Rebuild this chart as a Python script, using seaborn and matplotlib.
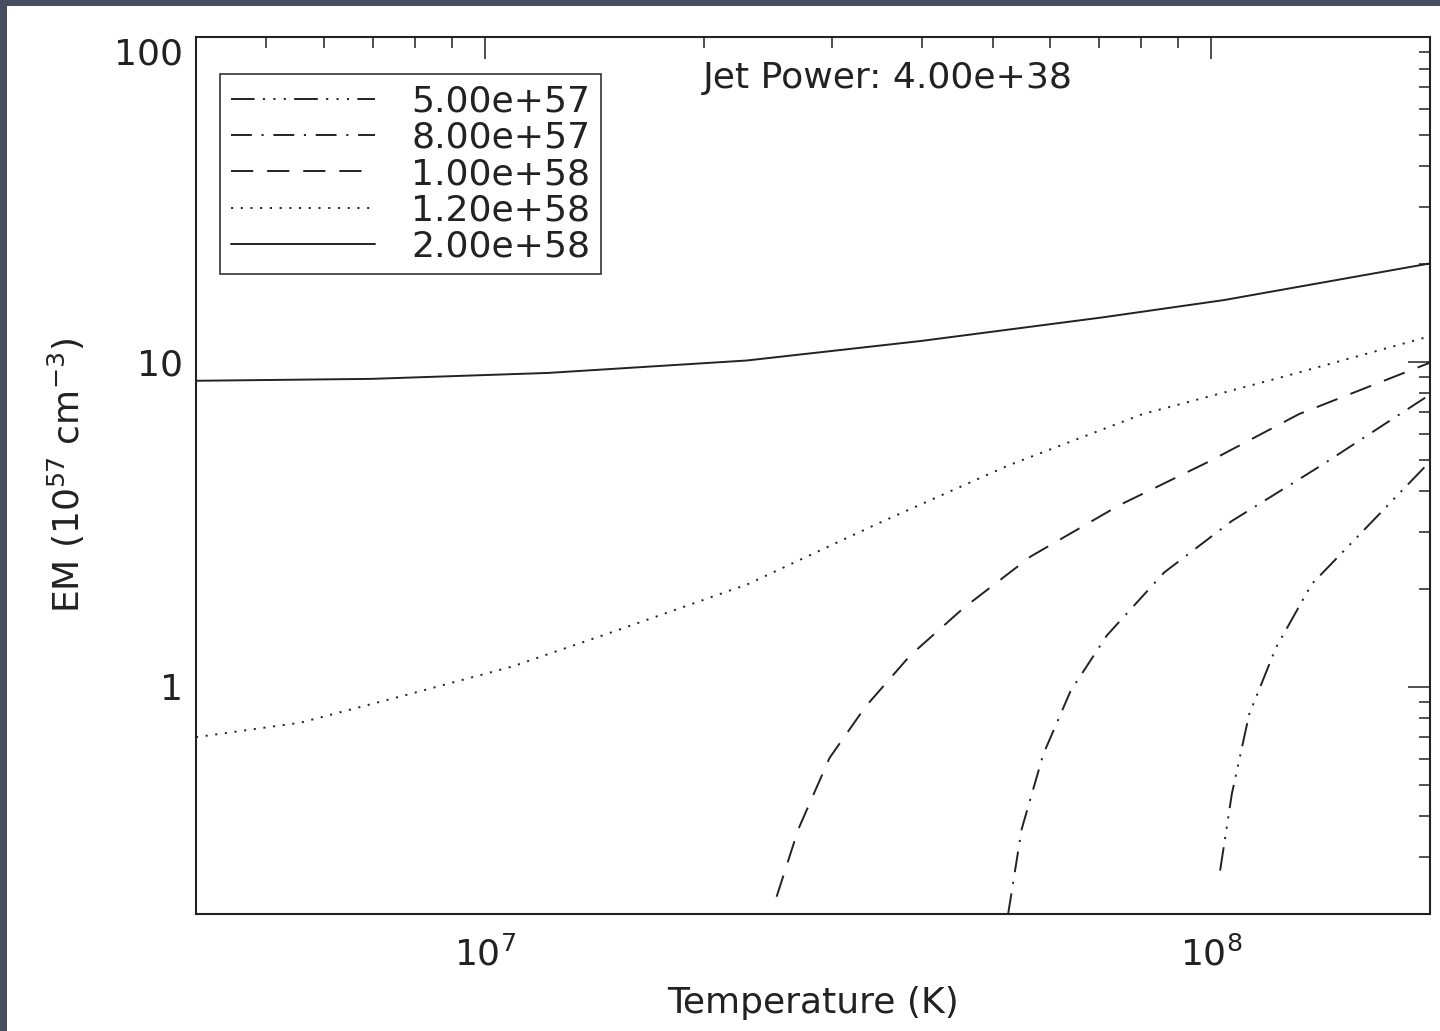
import numpy as np
import matplotlib
matplotlib.use('Agg')
import matplotlib.pyplot as plt
from matplotlib.patches import Rectangle
from matplotlib.ticker import LogLocator, NullFormatter, LogFormatterSciNotation
import seaborn as sns

# values: temperature (K) and EM (1e57 cm^-3)
temp_5e57 = [1.028e8, 1.067e8, 1.127e8, 1.227e8, 1.374e8, 1.629e8, 2.0e8]
em_5e57 = [0.272, 0.469, 0.822, 1.32, 2.07, 3.07, 4.94]

temp_8e57 = [5.25e7, 5.48e7, 5.87e7, 6.40e7, 7.18e7, 8.61e7, 1.067e8, 1.416e8, 2.0e8]
em_8e57 = [0.20, 0.365, 0.621, 0.972, 1.44, 2.25, 3.24, 4.80, 7.94]

temp_1e58 = [2.52e7, 2.70e7, 2.98e7, 3.34e7, 3.85e7, 4.56e7, 5.64e7, 7.48e7, 9.93e7, 1.32e8, 2.0e8]
em_1e58 = [0.226, 0.365, 0.604, 0.869, 1.25, 1.75, 2.52, 3.63, 4.94, 6.91, 9.95]

temp_12e58 = [4.0e6, 5.57e6, 7.80e6, 1.09e7, 1.53e7, 2.30e7, 3.44e7, 5.25e7, 8.04e7, 1.23e8, 2.0e8]
em_12e58 = [0.70, 0.776, 0.945, 1.155, 1.50, 2.07, 3.15, 4.80, 6.91, 8.89, 12.0]

temp_2e58 = [4.0e6, 6.98e6, 1.22e7, 2.29e7, 3.98e7, 7.06e7, 1.04e8, 2.0e8]
em_2e58 = [8.75, 8.87, 9.25, 10.1, 11.6, 13.7, 15.5, 20.1]

labels = ['5.00e+57', '8.00e+57', '1.00e+58', '1.20e+58', '2.00e+58']
jet_power = 'Jet Power: 4.00e+38'

sns.set_theme(style='white')
plt.rcParams['font.family'] = ['DejaVu Sans']
plt.rcParams['mathtext.fontset'] = 'dejavusans'
plt.rcParams['lines.scale_dashes'] = False

ink = '#222222'
fs = 26

# IDL style line patterns (points)
styles = [
    (0, (17, 6, 1.5, 6, 1.5, 6, 1.5, 6)),
    (0, (15, 7, 1.5, 7)),
    (0, (16, 10)),
    (0, (1.5, 5.5)),
    '-',
]

fig = plt.figure(figsize=(14.4, 10.31), dpi=100)
fig.patch.set_facecolor('#474e60')
fig.add_artist(Rectangle((7 / 1440, 0), 1, 1 - 6 / 1031, transform=fig.transFigure,
                         facecolor='white', edgecolor='none', zorder=-10))
ax = fig.add_axes([0.1361, 0.1135, 0.8570, 0.8506])
ax.set_facecolor('white')

series = [(temp_5e57, em_5e57), (temp_8e57, em_8e57), (temp_1e58, em_1e58),
          (temp_12e58, em_12e58), (temp_2e58, em_2e58)]
for (t, e), lab, ls in zip(series, labels, styles):
    sns.lineplot(x=t, y=e, ax=ax, color=ink, linewidth=1.4, linestyle=ls,
                 label=lab, sort=False)

ax.set_xscale('log')
ax.set_yscale('log')
ax.set_xlim(4e6, 2e8)
ax.set_ylim(0.2, 100)

ax.xaxis.set_major_locator(LogLocator(base=10))
ax.xaxis.set_major_formatter(LogFormatterSciNotation())
ax.xaxis.set_minor_locator(LogLocator(base=10, subs=np.arange(2, 10)))
ax.xaxis.set_minor_formatter(NullFormatter())
ax.set_yticks([1, 10, 100], labels=['1', '10', '100'])
ax.yaxis.set_minor_locator(LogLocator(base=10, subs=np.arange(2, 10)))
ax.yaxis.set_minor_formatter(NullFormatter())

ax.tick_params(which='both', direction='in', top=True, right=True, color=ink,
               labelcolor=ink, labelsize=fs)
ax.tick_params(which='major', length=16, width=1.1)
ax.tick_params(which='minor', length=8, width=1.1)
ax.tick_params(axis='x', which='major', pad=16)
ax.tick_params(axis='y', which='major', pad=9)
ax.get_yticklabels()[2].set_va('top')

for sp in ax.spines.values():
    sp.set_color(ink)
    sp.set_linewidth(1.5)

ax.set_xlabel('Temperature (K)', fontsize=fs, color=ink)
ax.set_ylabel('EM (10$^{57}$ cm$^{-3}$)', fontsize=fs, color=ink)
ax.xaxis.set_label_coords(0.5, -0.082)
ax.yaxis.set_label_coords(-0.088, 0.5)

ax.text(0.411, 0.942, jet_power, transform=ax.transAxes, fontsize=fs, color=ink,
        ha='left', va='baseline')

leg = ax.legend(loc='upper left', bbox_to_anchor=(0.0194, 0.958), borderaxespad=0,
                fontsize=fs, frameon=True, fancybox=False, framealpha=1,
                handlelength=4.0, handletextpad=1.0, borderpad=0.3,
                labelspacing=0.06, labelcolor=ink)
leg.get_frame().set_edgecolor(ink)
leg.get_frame().set_linewidth(1.1)

fig.savefig('out.png', dpi=100, facecolor=fig.get_facecolor())
